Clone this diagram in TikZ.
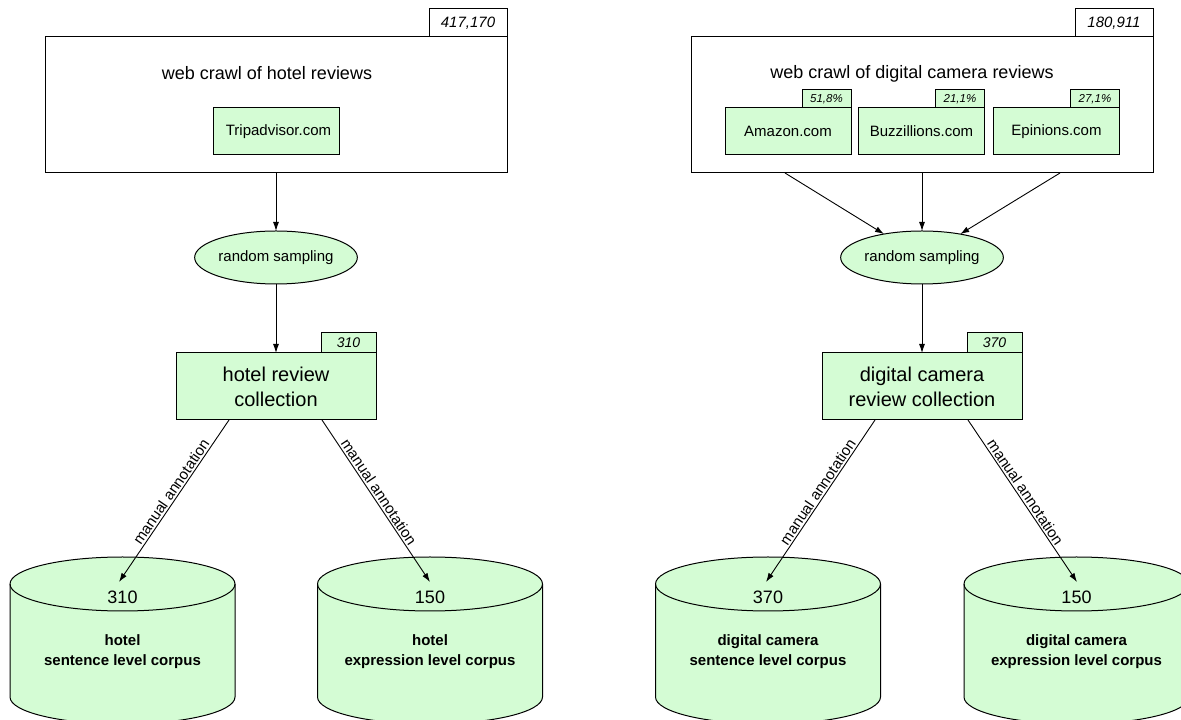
\documentclass[tikz,border=0pt]{standalone}
\usepackage{fontspec}
\setmainfont{Liberation Sans}
\usetikzlibrary{arrows.meta,shapes.geometric,calc}
\definecolor{mint}{RGB}{212,252,212}

% corpus cylinder: #1 centre x, #2 name, #3 count, #4 first line, #5 second line
\newcommand\corpuscyl[5]{%
  \filldraw[fill=mint, line width=1pt]
    (#1-112.5,136) -- (#1-112.5,23)
    arc[start angle=180, end angle=360, x radius=112.5, y radius=27]
    -- (#1+112.5,136)
    arc[start angle=0, end angle=180, x radius=112.5, y radius=27] -- cycle;
  \draw[line width=1pt] (#1-112.5,136)
    arc[start angle=180, end angle=360, x radius=112.5, y radius=27];
  \node[font=\fontsize{18}{21}\selectfont] (#2num) at (#1,123) {#3};
  \node[align=center, font=\fontsize{15}{20}\selectfont\bfseries] (#2lbl) at (#1,68) {#4\\#5};
}

\begin{document}
\begin{tikzpicture}[x=1pt, y=1pt,
  every node/.style={inner sep=0pt, outer sep=0pt},
  crawlbox/.style={draw, line width=1pt, fill=white, minimum width=462pt, minimum height=136pt},
  crawltitle/.style={font=\fontsize{18}{21}\selectfont},
  bigtag/.style={draw, line width=1pt, fill=white, minimum width=78pt, minimum height=28pt,
    font=\fontsize{15}{18}\selectfont\itshape},
  sitebox/.style={draw, line width=1pt, fill=mint, minimum width=126pt, minimum height=47pt,
    font=\fontsize{15}{18}\selectfont},
  sitetag/.style={draw, line width=1pt, fill=mint, minimum width=49pt, minimum height=18pt,
    font=\fontsize{11.5}{14}\selectfont\itshape, anchor=south east},
  sampling/.style={ellipse, draw, line width=1pt, fill=mint, minimum width=147pt, minimum height=53pt,
    font=\fontsize{15}{18}\selectfont},
  collbox/.style={draw, line width=1pt, fill=mint, minimum width=200pt, minimum height=67pt,
    align=center, font=\fontsize{20}{25}\selectfont},
  colltag/.style={draw, line width=1pt, fill=mint, minimum width=55pt, minimum height=20pt,
    font=\fontsize{14}{17}\selectfont\itshape, anchor=south east},
  flow/.style={-{Latex[length=9pt, width=6pt]}, line width=0.9pt},
  annot/.style={font=\fontsize{15}{18}\selectfont, sloped, above, pos=0.47, inner sep=2pt}
]
\useasboundingbox (0,0) rectangle (1181,720);

% ---------------- hotel reviews ----------------
\node[crawlbox] (crawlL) at (276,615) {};
\node[bigtag, anchor=south east] (crawlLtag) at (crawlL.north east) {417,170};
\node[crawltitle] (crawlLtitle) at (267,646.5) {web crawl of hotel reviews};
\node[sitebox] (trip) at (276,588.5) {\hspace{5pt}Tripadvisor.com};

\node[sampling] (sampL) at (276,462.5) {random sampling};

\node[collbox] (collL) at (276,333.5) {hotel review\\collection};
\node[colltag] (collLtag) at (collL.north east) {310};

\corpuscyl{122.5}{hotSent}{310}{hotel}{sentence level corpus}
\corpuscyl{430}{hotExpr}{150}{hotel}{expression level corpus}

\draw[flow] (crawlL.south) -- (sampL.north);
\draw[flow] (sampL.south) -- (collL.north);

\coordinate (hotSentFrom) at ([xshift=-47pt]collL.south);
\coordinate (hotExprFrom) at ([xshift=46pt]collL.south);
\coordinate (hotSentTip) at (119,138);
\coordinate (hotExprTip) at (430,138);
\draw[flow] (hotSentFrom) -- node[annot] {manual annotation} (hotSentTip);
\draw[flow] (hotExprFrom) -- node[annot] {manual annotation} (hotExprTip);

% ---------------- digital camera reviews ----------------
\node[crawlbox] (crawlR) at (922,615) {};
\node[bigtag, anchor=south east] (crawlRtag) at (crawlR.north east) {180,911};
\node[crawltitle] (crawlRtitle) at (912,646.5) {web crawl of digital camera reviews};

\node[sitebox] (amz) at (788,588.5) {Amazon.com};
\node[sitetag] (amzTag) at (amz.north east) {51,8\%};
\node[sitebox] (buzz) at (921.5,588.5) {Buzzillions.com};
\node[sitetag] (buzzTag) at (buzz.north east) {21,1\%};
\node[sitebox] (epi) at (1056.5,588.5) {Epinions.com};
\node[sitetag] (epiTag) at (epi.north east) {27,1\%};

\node[sampling] (sampR) at (922,462.5) {random sampling};

\node[collbox] (collR) at (922,333.5) {digital camera\\review collection};
\node[colltag] (collRtag) at (collR.north east) {370};

\corpuscyl{768}{camSent}{370}{digital camera}{sentence level corpus}
\corpuscyl{1076.5}{camExpr}{150}{digital camera}{expression level corpus}

\coordinate (crawlRout1) at ([xshift=-137pt]crawlR.south);
\coordinate (crawlRout3) at ([xshift=138pt]crawlR.south);
\draw[flow] (crawlRout1) -- (sampR);
\draw[flow] (crawlR.south) -- (sampR.north);
\draw[flow] (crawlRout3) -- (sampR);
\draw[flow] (sampR.south) -- (collR.north);

\coordinate (camSentFrom) at ([xshift=-47pt]collR.south);
\coordinate (camExprFrom) at ([xshift=46pt]collR.south);
\coordinate (camSentTip) at (766,138);
\coordinate (camExprTip) at (1077,138);
\draw[flow] (camSentFrom) -- node[annot] {manual annotation} (camSentTip);
\draw[flow] (camExprFrom) -- node[annot] {manual annotation} (camExprTip);
\end{tikzpicture}
\end{document}
